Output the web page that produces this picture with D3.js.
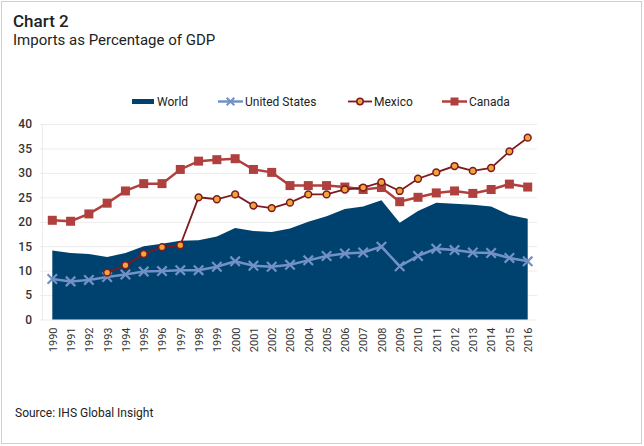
<!DOCTYPE html>
<html>
<head>
<meta charset="utf-8">
<script src="https://cdn.jsdelivr.net/npm/d3@7"></script>
<style>
  body { margin: 0; background: #fff; }
  svg { display: block; font-family: Roboto, "Open Sans", sans-serif; }
</style>
</head>
<body>
<svg id="chart" width="644" height="446"></svg>
<script>
/* --- Data --- */
const years = d3.range(1990, 2017).map(String);
const yTicks = [0, 5, 10, 15, 20, 25, 30, 35, 40];

const world = [14.1, 13.6, 13.4, 12.8, 13.6, 15.0, 15.5, 16.1, 16.2, 17.0, 18.7, 18.1, 17.9, 18.6,
  20.0, 21.1, 22.6, 23.1, 24.4, 19.8, 22.2, 23.9, 23.7, 23.5, 23.1, 21.4, 20.6];
const unitedStates = [8.3, 7.8, 8.1, 8.7, 9.2, 9.8, 9.9, 10.1, 10.1, 10.8, 11.9, 11.0, 10.8, 11.2,
  12.1, 13.0, 13.5, 13.7, 14.9, 10.9, 13.0, 14.5, 14.2, 13.7, 13.6, 12.6, 11.9];
const mexico = [null, null, null, 9.6, 11.1, 13.4, 14.8, 15.2, 25.0, 24.6, 25.6, 23.3, 22.8, 23.9,
  25.6, 25.6, 26.6, 27.0, 28.1, 26.3, 28.8, 30.1, 31.4, 30.4, 31.0, 34.4, 37.2];
const canada = [20.3, 20.1, 21.6, 23.8, 26.3, 27.8, 27.8, 30.7, 32.4, 32.7, 32.9, 30.7, 30.1, 27.4,
  27.4, 27.4, 27.1, 26.6, 27.0, 24.1, 25.0, 25.9, 26.3, 25.8, 26.6, 27.7, 27.1];

const COLORS = {
  world: '#00426f',
  us: '#7291c6',
  mexLine: '#7d1a1f',
  mexFill: '#f0a43a',
  canada: '#b0403e',
  grid: '#ececec',
  text: '#222'
};

const svg = d3.select('#chart');

// outer frame
svg.append('rect')
  .attr('x', 1.5).attr('y', 1.5)
  .attr('width', 640).attr('height', 442)
  .attr('fill', 'none')
  .attr('stroke', '#cfcfcf');

// titles
svg.append('text').attr('x', 13).attr('y', 27)
  .style('font-size', '17px').style('font-weight', 500).attr('fill', COLORS.text)
  .text('Chart 2');
svg.append('text').attr('x', 13).attr('y', 45)
  .style('font-size', '15px').attr('fill', COLORS.text)
  .text('Imports as Percentage of GDP');
svg.append('text').attr('x', 15).attr('y', 417)
  .style('font-size', '12px').attr('fill', COLORS.text)
  .text('Source: IHS Global Insight');

/* --- Scales --- */
const x = d3.scalePoint().domain(years).range([52.3, 527.7]);
const y = d3.scaleLinear().domain([0, 40]).range([319.5, 124]);

// gridlines
const grid = svg.append('g')
  .attr('transform', 'translate(40,0)')
  .call(d3.axisLeft(y).tickValues(yTicks).tickSize(-497).tickFormat(''));
grid.select('.domain').remove();
grid.selectAll('line').attr('stroke', COLORS.grid);

// y axis labels
const yAxis = svg.append('g')
  .attr('transform', 'translate(42,0)')
  .call(d3.axisLeft(y).tickValues(yTicks).tickSize(0).tickPadding(10));
yAxis.select('.domain').attr('stroke', COLORS.grid);
yAxis.selectAll('text')
  .style('font-size', '12px').style('font-weight', 500)
  .style('font-family', 'Roboto, sans-serif')
  .attr('fill', '#333');

// x axis labels (rotated)
const xAxis = svg.append('g')
  .attr('transform', `translate(0, ${y(0)})`)
  .call(d3.axisBottom(x).tickSize(0));
xAxis.select('.domain').remove();
xAxis.selectAll('text')
  .style('font-size', '11px')
  .style('font-family', 'Roboto, sans-serif')
  .attr('fill', '#333')
  .attr('transform', 'rotate(-90)')
  .attr('text-anchor', 'end')
  .attr('x', -8).attr('y', 0).attr('dy', '0.35em');

/* --- World area --- */
const worldData = years.map((yr, i) => ({ yr, v: world[i] }));
svg.append('path')
  .datum(worldData)
  .attr('fill', COLORS.world)
  .attr('d', d3.area().x(d => x(d.yr)).y0(y(0)).y1(d => y(d.v)));

/* --- Line series --- */
const lineGen = d3.line()
  .defined(d => d.v != null)
  .x(d => x(d.yr)).y(d => y(d.v));

function series(vals) {
  return years.map((yr, i) => ({ yr, v: vals[i] }));
}

// United States
const usData = series(unitedStates);
svg.append('path').datum(usData)
  .attr('fill', 'none').attr('stroke', COLORS.us).attr('stroke-width', 2.5)
  .attr('d', lineGen);
svg.append('g').selectAll('path')
  .data(usData)
  .join('path')
  .attr('transform', d => `translate(${x(d.yr)},${y(d.v)})`)
  .attr('d', d3.symbol(d3.symbolX, 60)())
  .attr('fill', 'none')
  .attr('stroke', COLORS.us).attr('stroke-width', 2.2);

// Canada
const caData = series(canada);
svg.append('path').datum(caData)
  .attr('fill', 'none').attr('stroke', COLORS.canada).attr('stroke-width', 2.5)
  .attr('d', lineGen);
svg.append('g').selectAll('rect')
  .data(caData)
  .join('rect')
  .attr('x', d => x(d.yr) - 4.5).attr('y', d => y(d.v) - 4.5)
  .attr('width', 9).attr('height', 9)
  .attr('fill', COLORS.canada);

// Mexico
const mxData = series(mexico).filter(d => d.v != null);
svg.append('path').datum(mxData)
  .attr('fill', 'none').attr('stroke', COLORS.mexLine).attr('stroke-width', 1.8)
  .attr('d', lineGen);
svg.append('g').selectAll('circle')
  .data(mxData)
  .join('circle')
  .attr('cx', d => x(d.yr)).attr('cy', d => y(d.v))
  .attr('r', 3.4)
  .attr('fill', COLORS.mexFill)
  .attr('stroke', COLORS.mexLine).attr('stroke-width', 1.5);

/* --- Legend --- */
const legend = svg.append('g').style('font-size', '12px').attr('fill', COLORS.text);
const ly = 101.5;

legend.append('rect').attr('x', 132).attr('y', ly - 2.5).attr('width', 22).attr('height', 5)
  .attr('fill', COLORS.world);
legend.append('text').attr('x', 157).attr('y', ly).attr('dy', '0.35em').text('World');

legend.append('line').attr('x1', 218).attr('x2', 243).attr('y1', ly).attr('y2', ly)
  .attr('stroke', COLORS.us).attr('stroke-width', 2.5);
legend.append('path').attr('transform', `translate(230.5,${ly})`)
  .attr('d', d3.symbol(d3.symbolX, 40)()).attr('fill', 'none')
  .attr('stroke', COLORS.us).attr('stroke-width', 2);
legend.append('text').attr('x', 245).attr('y', ly).attr('dy', '0.35em').text('United States');

legend.append('line').attr('x1', 348).attr('x2', 372).attr('y1', ly).attr('y2', ly)
  .attr('stroke', COLORS.mexLine).attr('stroke-width', 1.8);
legend.append('circle').attr('cx', 360).attr('cy', ly).attr('r', 3.2)
  .attr('fill', COLORS.mexFill).attr('stroke', COLORS.mexLine).attr('stroke-width', 1.5);
legend.append('text').attr('x', 374).attr('y', ly).attr('dy', '0.35em').text('Mexico');

legend.append('line').attr('x1', 442).attr('x2', 467).attr('y1', ly).attr('y2', ly)
  .attr('stroke', COLORS.canada).attr('stroke-width', 2.5);
legend.append('rect').attr('x', 450.5).attr('y', ly - 4).attr('width', 8).attr('height', 8)
  .attr('fill', COLORS.canada);
legend.append('text').attr('x', 469).attr('y', ly).attr('dy', '0.35em').text('Canada');
</script>
</body>
</html>
